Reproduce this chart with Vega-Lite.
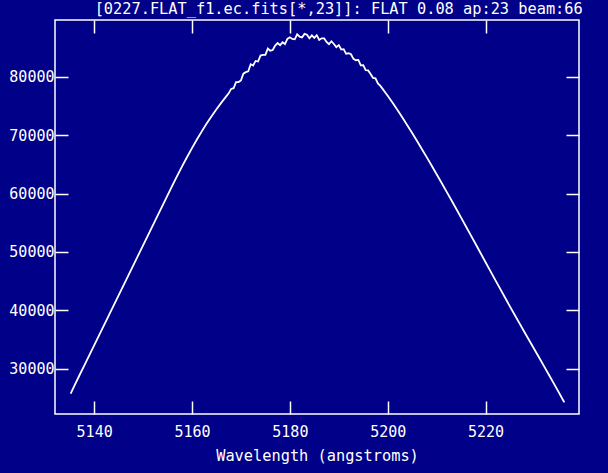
{
  "$schema": "https://vega.github.io/schema/vega-lite/v6.json",
  "width": 524,
  "height": 394,
  "autosize": "none",
  "padding": {"left": 55, "top": 20, "right": 29, "bottom": 59},
  "background": "#000088",
  "config": {
    "view": {"stroke": "#ffffff", "strokeWidth": 1.5, "fill": "#000088"},
    "font": "DejaVu Sans Mono"
  },
  "title": {
    "text": "[0227.FLAT_f1.ec.fits[*,23]]: FLAT 0.08 ap:23 beam:66",
    "anchor": "end",
    "color": "#ffffff",
    "font": "DejaVu Sans Mono",
    "fontSize": 15.3,
    "fontWeight": "normal",
    "offset": 4,
    "dx": 3,
    "dy": 2.5
  },
  "data": {
    "values": [
      {"w": 5135.2, "f": 25700},
      {"w": 5136, "f": 27120},
      {"w": 5137, "f": 28840},
      {"w": 5138, "f": 30550},
      {"w": 5139, "f": 32260},
      {"w": 5140, "f": 33980},
      {"w": 5141, "f": 35690},
      {"w": 5142, "f": 37410},
      {"w": 5143, "f": 39120},
      {"w": 5144, "f": 40830},
      {"w": 5145, "f": 42550},
      {"w": 5146, "f": 44260},
      {"w": 5147, "f": 45980},
      {"w": 5148, "f": 47690},
      {"w": 5149, "f": 49400},
      {"w": 5150, "f": 51120},
      {"w": 5151, "f": 52830},
      {"w": 5152, "f": 54540},
      {"w": 5153, "f": 56260},
      {"w": 5154, "f": 57970},
      {"w": 5155, "f": 59680},
      {"w": 5156, "f": 61380},
      {"w": 5157, "f": 63050},
      {"w": 5158, "f": 64680},
      {"w": 5159, "f": 66260},
      {"w": 5160, "f": 67790},
      {"w": 5161, "f": 69250},
      {"w": 5162, "f": 70650},
      {"w": 5163, "f": 71990},
      {"w": 5164, "f": 73250},
      {"w": 5165, "f": 74450},
      {"w": 5166, "f": 75580},
      {"w": 5167, "f": 76650},
      {"w": 5167.5, "f": 77170},
      {"w": 5168, "f": 77930},
      {"w": 5168.5, "f": 78050},
      {"w": 5169, "f": 79100},
      {"w": 5169.5, "f": 79100},
      {"w": 5170, "f": 79380},
      {"w": 5170.5, "f": 80550},
      {"w": 5171, "f": 80800},
      {"w": 5171.5, "f": 80950},
      {"w": 5172, "f": 82150},
      {"w": 5172.5, "f": 81950},
      {"w": 5173, "f": 82730},
      {"w": 5173.5, "f": 82630},
      {"w": 5174, "f": 83650},
      {"w": 5174.5, "f": 83750},
      {"w": 5175, "f": 83780},
      {"w": 5175.5, "f": 84840},
      {"w": 5176, "f": 84480},
      {"w": 5176.5, "f": 84600},
      {"w": 5177, "f": 85350},
      {"w": 5177.5, "f": 85790},
      {"w": 5178, "f": 85410},
      {"w": 5178.5, "f": 85920},
      {"w": 5179, "f": 85620},
      {"w": 5179.5, "f": 86500},
      {"w": 5180, "f": 86780},
      {"w": 5180.5, "f": 86490},
      {"w": 5181, "f": 86430},
      {"w": 5181.5, "f": 87300},
      {"w": 5182, "f": 86900},
      {"w": 5182.5, "f": 86770},
      {"w": 5183, "f": 87360},
      {"w": 5183.5, "f": 87220},
      {"w": 5184, "f": 86600},
      {"w": 5184.5, "f": 87100},
      {"w": 5185, "f": 86680},
      {"w": 5185.5, "f": 87140},
      {"w": 5186, "f": 86330},
      {"w": 5186.5, "f": 86600},
      {"w": 5187, "f": 86600},
      {"w": 5187.5, "f": 85980},
      {"w": 5188, "f": 85600},
      {"w": 5188.5, "f": 86100},
      {"w": 5189, "f": 85630},
      {"w": 5189.5, "f": 85100},
      {"w": 5190, "f": 85450},
      {"w": 5190.5, "f": 84680},
      {"w": 5191, "f": 84750},
      {"w": 5191.5, "f": 83950},
      {"w": 5192, "f": 84040},
      {"w": 5192.5, "f": 83870},
      {"w": 5193, "f": 83090},
      {"w": 5193.5, "f": 82850},
      {"w": 5194, "f": 82900},
      {"w": 5194.5, "f": 81980},
      {"w": 5195, "f": 82000},
      {"w": 5195.5, "f": 81150},
      {"w": 5196, "f": 81100},
      {"w": 5196.5, "f": 80500},
      {"w": 5197, "f": 79830},
      {"w": 5197.5, "f": 79740},
      {"w": 5198, "f": 78880},
      {"w": 5198.5, "f": 78450},
      {"w": 5199, "f": 77900},
      {"w": 5199.5, "f": 77330},
      {"w": 5200, "f": 76750},
      {"w": 5200.5, "f": 76150},
      {"w": 5201, "f": 75550},
      {"w": 5202, "f": 74300},
      {"w": 5203, "f": 73020},
      {"w": 5204, "f": 71700},
      {"w": 5205, "f": 70360},
      {"w": 5206, "f": 68990},
      {"w": 5207, "f": 67600},
      {"w": 5208, "f": 66190},
      {"w": 5209, "f": 64760},
      {"w": 5210, "f": 63310},
      {"w": 5211, "f": 61850},
      {"w": 5212, "f": 60370},
      {"w": 5213, "f": 58880},
      {"w": 5214, "f": 57380},
      {"w": 5215, "f": 55870},
      {"w": 5216, "f": 54350},
      {"w": 5217, "f": 52830},
      {"w": 5218, "f": 51300},
      {"w": 5219, "f": 49760},
      {"w": 5220, "f": 48220},
      {"w": 5221, "f": 46690},
      {"w": 5222, "f": 45160},
      {"w": 5223, "f": 43640},
      {"w": 5224, "f": 42120},
      {"w": 5225, "f": 40610},
      {"w": 5226, "f": 39120},
      {"w": 5227, "f": 37650},
      {"w": 5228, "f": 36180},
      {"w": 5229, "f": 34720},
      {"w": 5230, "f": 33260},
      {"w": 5231, "f": 31800},
      {"w": 5232, "f": 30330},
      {"w": 5233, "f": 28850},
      {"w": 5234, "f": 27360},
      {"w": 5235, "f": 25860},
      {"w": 5236, "f": 24350},
      {"w": 5236.1, "f": 24200}
    ]
  },
  "layer": [
    {
      "mark": {"type": "line", "color": "#ffffff", "strokeWidth": 1.8, "clip": true},
      "encoding": {
        "x": {
          "field": "w", "type": "quantitative",
          "scale": {"domain": [5132, 5239.1], "nice": false, "zero": false},
          "axis": {
            "orient": "bottom",
            "values": [5140, 5160, 5180, 5200, 5220],
            "format": "d",
            "domain": false, "grid": false,
            "tickSize": -13, "tickColor": "#ffffff", "tickWidth": 1.5,
            "labelColor": "#ffffff", "labelFont": "DejaVu Sans Mono", "labelFontSize": 15,
            "labelPadding": 23,
            "title": "Wavelength (angstroms)",
            "titleColor": "#ffffff", "titleFont": "DejaVu Sans Mono", "titleFontSize": 15.3,
            "titleFontWeight": "normal", "titlePadding": 9
          }
        },
        "y": {
          "field": "f", "type": "quantitative",
          "scale": {"domain": [22200, 89745], "nice": false, "zero": false},
          "axis": {
            "orient": "left",
            "values": [30000, 40000, 50000, 60000, 70000, 80000],
            "format": "d",
            "domain": false, "grid": false,
            "tickSize": -13, "tickColor": "#ffffff", "tickWidth": 1.5,
            "labelColor": "#ffffff", "labelFont": "DejaVu Sans Mono", "labelFontSize": 15,
            "labelPadding": 14,
            "title": null
          }
        }
      }
    },
    {
      "mark": {"type": "line", "strokeOpacity": 0},
      "encoding": {
        "x": {
          "field": "w", "type": "quantitative",
          "axis": {
            "orient": "top",
            "values": [5140, 5160, 5180, 5200, 5220],
            "labels": false, "domain": false, "grid": false,
            "tickSize": -13, "tickColor": "#ffffff", "tickWidth": 1.5,
            "title": null
          }
        },
        "y": {
          "field": "f", "type": "quantitative",
          "axis": {
            "orient": "right",
            "values": [30000, 40000, 50000, 60000, 70000, 80000],
            "labels": false, "domain": false, "grid": false,
            "tickSize": -13, "tickColor": "#ffffff", "tickWidth": 1.5,
            "title": null
          }
        }
      }
    }
  ],
  "resolve": {"axis": {"x": "independent", "y": "independent"}}
}
